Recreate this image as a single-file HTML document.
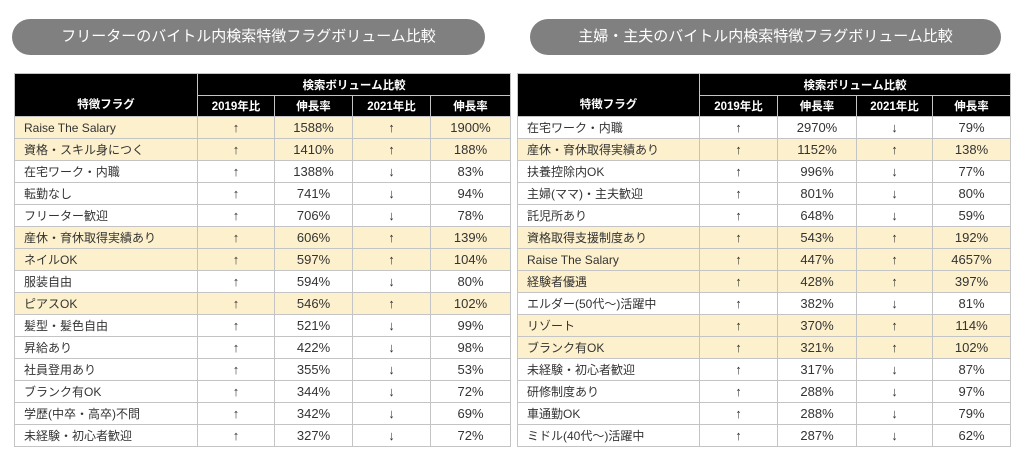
<!DOCTYPE html>
<html><head><meta charset="utf-8"><style>
body{margin:0;width:1024px;height:464px;background:#fff;position:relative;overflow:hidden;font-family:"Liberation Sans","Noto Sans CJK JP",sans-serif}
.pill{position:absolute;top:19px;height:36px;background:#808080;border-radius:18px;color:#fff;font-size:15px;line-height:36px;text-align:center}
table{position:absolute;top:73px;border-collapse:collapse;table-layout:fixed;font-size:12px;color:#333}
td,th{border:1.5px solid #c4c4c4;padding:0;text-align:center;white-space:nowrap;overflow:hidden}
th{background:#000;color:#fff;font-size:11.5px;font-weight:bold;border-color:#c4c4c4}
tr.h1 th{height:21px}
tr.h2 th{height:20px}
td{height:21px;font-size:13px}
td:first-child{text-align:left;padding-left:9px;font-size:12px}
tr.y td{background:#fdf0cc}
</style></head><body>
<div class="pill" style="left:12px;width:473px">フリーターのバイトル内検索特徴フラグボリューム比較</div>
<div class="pill" style="left:530px;width:471px">主婦・主夫のバイトル内検索特徴フラグボリューム比較</div>

<table style="left:14px;width:496px">
<colgroup><col style="width:183px"><col style="width:77px"><col style="width:78px"><col style="width:78px"><col style="width:80px"></colgroup>
<tr class="h1"><th rowspan="2" style="vertical-align:bottom;padding-bottom:4px">特徴フラグ</th><th colspan="4">検索ボリューム比較</th></tr>
<tr class="h2"><th>2019年比</th><th>伸長率</th><th>2021年比</th><th>伸長率</th></tr>
<tr class="y"><td>Raise The Salary</td><td>↑</td><td>1588%</td><td>↑</td><td>1900%</td></tr>
<tr class="y"><td>資格・スキル身につく</td><td>↑</td><td>1410%</td><td>↑</td><td>188%</td></tr>
<tr><td>在宅ワーク・内職</td><td>↑</td><td>1388%</td><td>↓</td><td>83%</td></tr>
<tr><td>転勤なし</td><td>↑</td><td>741%</td><td>↓</td><td>94%</td></tr>
<tr><td>フリーター歓迎</td><td>↑</td><td>706%</td><td>↓</td><td>78%</td></tr>
<tr class="y"><td>産休・育休取得実績あり</td><td>↑</td><td>606%</td><td>↑</td><td>139%</td></tr>
<tr class="y"><td>ネイルOK</td><td>↑</td><td>597%</td><td>↑</td><td>104%</td></tr>
<tr><td>服装自由</td><td>↑</td><td>594%</td><td>↓</td><td>80%</td></tr>
<tr class="y"><td>ピアスOK</td><td>↑</td><td>546%</td><td>↑</td><td>102%</td></tr>
<tr><td>髪型・髪色自由</td><td>↑</td><td>521%</td><td>↓</td><td>99%</td></tr>
<tr><td>昇給あり</td><td>↑</td><td>422%</td><td>↓</td><td>98%</td></tr>
<tr><td>社員登用あり</td><td>↑</td><td>355%</td><td>↓</td><td>53%</td></tr>
<tr><td>ブランク有OK</td><td>↑</td><td>344%</td><td>↓</td><td>72%</td></tr>
<tr><td>学歴(中卒・高卒)不問</td><td>↑</td><td>342%</td><td>↓</td><td>69%</td></tr>
<tr><td>未経験・初心者歓迎</td><td>↑</td><td>327%</td><td>↓</td><td>72%</td></tr>
</table>

<table style="left:517px;width:493px">
<colgroup><col style="width:182px"><col style="width:78px"><col style="width:79px"><col style="width:76px"><col style="width:78px"></colgroup>
<tr class="h1"><th rowspan="2" style="vertical-align:bottom;padding-bottom:4px">特徴フラグ</th><th colspan="4">検索ボリューム比較</th></tr>
<tr class="h2"><th>2019年比</th><th>伸長率</th><th>2021年比</th><th>伸長率</th></tr>
<tr><td>在宅ワーク・内職</td><td>↑</td><td>2970%</td><td>↓</td><td>79%</td></tr>
<tr class="y"><td>産休・育休取得実績あり</td><td>↑</td><td>1152%</td><td>↑</td><td>138%</td></tr>
<tr><td>扶養控除内OK</td><td>↑</td><td>996%</td><td>↓</td><td>77%</td></tr>
<tr><td>主婦(ママ)・主夫歓迎</td><td>↑</td><td>801%</td><td>↓</td><td>80%</td></tr>
<tr><td>託児所あり</td><td>↑</td><td>648%</td><td>↓</td><td>59%</td></tr>
<tr class="y"><td>資格取得支援制度あり</td><td>↑</td><td>543%</td><td>↑</td><td>192%</td></tr>
<tr class="y"><td>Raise The Salary</td><td>↑</td><td>447%</td><td>↑</td><td>4657%</td></tr>
<tr class="y"><td>経験者優遇</td><td>↑</td><td>428%</td><td>↑</td><td>397%</td></tr>
<tr><td>エルダー(50代～)活躍中</td><td>↑</td><td>382%</td><td>↓</td><td>81%</td></tr>
<tr class="y"><td>リゾート</td><td>↑</td><td>370%</td><td>↑</td><td>114%</td></tr>
<tr class="y"><td>ブランク有OK</td><td>↑</td><td>321%</td><td>↑</td><td>102%</td></tr>
<tr><td>未経験・初心者歓迎</td><td>↑</td><td>317%</td><td>↓</td><td>87%</td></tr>
<tr><td>研修制度あり</td><td>↑</td><td>288%</td><td>↓</td><td>97%</td></tr>
<tr><td>車通勤OK</td><td>↑</td><td>288%</td><td>↓</td><td>79%</td></tr>
<tr><td>ミドル(40代～)活躍中</td><td>↑</td><td>287%</td><td>↓</td><td>62%</td></tr>
</table>
</body></html>
